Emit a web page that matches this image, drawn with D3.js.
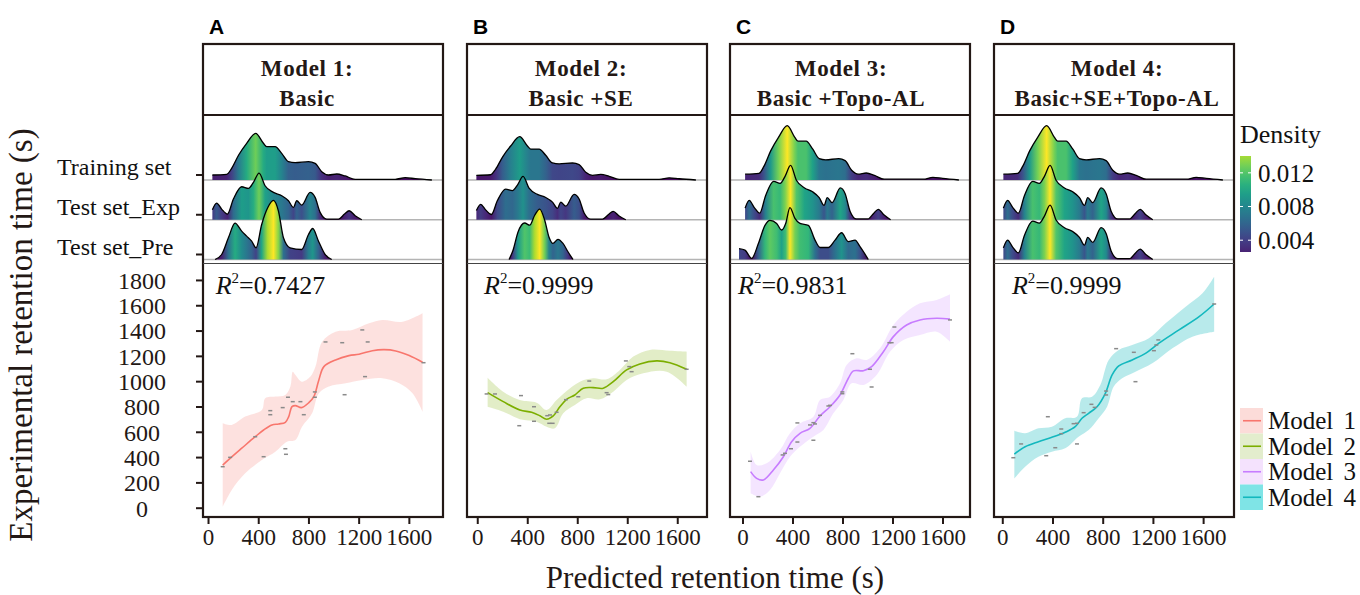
<!DOCTYPE html>
<html><head><meta charset="utf-8">
<script src="https://cdn.jsdelivr.net/npm/d3@7"></script>
<style>body{margin:0;background:#fff}</style>
</head><body><svg id="c" width="1360" height="595"></svg>
<script>
// ---------------- DATA ----------------
const models = ["Model 1","Model 2","Model 3","Model 4"];
const panelTags = ["A","B","C","D"];
const titles = [["Model 1:","Basic"],["Model 2:","Basic +SE"],["Model 3:","Basic +Topo-AL"],["Model 4:","Basic+SE+Topo-AL"]];
const r2Values = ["0.7427","0.9999","0.9831","0.9999"];
const ridgeCategories = ["Training set","Test set_Exp","Test set_Pre"];
const yTicks = [0,200,400,600,800,1000,1200,1400,1600,1800];
const xTicks = [0,400,800,1200,1600];
const densityTicks = [0.004,0.008,0.012];
const densityLegendRange = [0.0026,0.014];

// ridge densities: [retention time (s), density]
const trainingDensity = [[35,.0015],[149,.0017],[189,.0035],[245,.0075],[309,.0110],[381,.0140],[443,.0110],[469,.0100],[536,.0100],[589,.0080],[643,.0055],[696,.0052],[803,.0055],[856,.0050],[909,.0025],[963,.0015],[1029,.0018],[1096,.0012],[1176,.0002],[1496,.0002],[1576,.0007],[1656,.0004],[1789,0]];
const testExpDensity = [[35,.0030],[69,.0050],[109,.0032],[155,.0017],[203,.0062],[269,.0099],[323,.0094],[363,.0112],[408,.0140],[456,.0102],[523,.0082],[589,.0072],[643,.0057],[683,.0037],[709,.0057],[749,.0044],[816,.0082],[856,.0067],[896,.0022],[949,.0002],[1043,.0002],[1091,.0017],[1128,.0027],[1176,.0012],[1229,0]];
const testPreDensity1 = [[56,0],[109,.0015],[163,.0065],[216,.0109],[269,.0085],[309,.0070],[349,.0055],[384,.0035],[429,.0105],[477,.0155],[523,.0177],[563,.0145],[603,.0065],[656,.0035],[749,.0030],[803,.0075],[837,.0093],[883,.0055],[936,.0015],[989,0]];
const testPreDensity2 = [[296,0],[328,.0030],[368,.0089],[421,.0118],[461,.0111],[501,.0143],[541,.0163],[581,.0127],[615,.0073],[647,.0052],[687,.0065],[727,.0052],[767,.0025],[807,0]];
const testPreDensity3 = [[-15,.0028],[34,.0024],[89,.0003],[144,.0041],[198,.0088],[239,.0101],[294,.0093],[335,.0076],[368,.0093],[403,.0134],[444,.0106],[485,.0093],[554,.0088],[609,.0050],[650,.0031],[718,.0031],[773,.0050],[827,.0069],[882,.0046],[937,.0050],[978,.0033],[1046,0]];
const testPreDensity4 = [[35,.0030],[69,.0050],[109,.0032],[155,.0017],[203,.0062],[269,.0099],[323,.0094],[363,.0112],[408,.0140],[456,.0102],[523,.0082],[589,.0072],[643,.0057],[683,.0037],[709,.0057],[749,.0044],[816,.0082],[856,.0067],[896,.0022],[949,.0002],[1043,.0002],[1091,.0017],[1128,.0027],[1176,.0012],[1229,0]];
// relative colour reached at each ridge's peak (per-panel fill normalisation)
const ridgePeakColour = [[0.78,0.78,1],[0.55,0.5,1],[1,1,1],[1,1,1]];

// scatter: [predicted, experimental]
const fit1 = [[117,337],[176,390],[269,470],[376,561],[443,614],[509,654],[563,662],[616,675],[643,720],[669,799],[696,807],[744,791],[803,830],[843,878],[883,1010],[923,1115],[1016,1168],[1123,1202],[1203,1213],[1309,1241],[1403,1249],[1496,1239],[1603,1202],[1709,1149]];
const upper1 = [[117,667],[189,654],[296,720],[429,772],[456,865],[536,878],[616,891],[656,957],[675,1075],[696,1049],[749,996],[816,1036],[856,1115],[909,1312],[1016,1391],[1149,1405],[1283,1458],[1389,1484],[1549,1470],[1709,1537]];
const lower1 = [[117,8],[189,140],[296,272],[429,377],[536,443],[629,522],[696,535],[749,640],[829,746],[883,904],[963,957],[1096,983],[1229,1010],[1389,1023],[1523,983],[1629,904],[1709,759]];
const points1 = [[117,324],[176,398],[376,561],[443,403],[496,767],[496,735],[595,791],[616,466],[621,422],[637,873],[675,838],[736,838],[763,735],[851,915],[851,873],[936,1310],[1069,1304],[1088,893],[1229,1405],[1251,1036],[1272,1310],[1717,1146]];

const fit2 = [[83,909],[208,838],[341,772],[435,754],[501,727],[555,699],[608,725],[661,798],[715,857],[781,891],[848,944],[928,949],[1008,944],[1088,996],[1195,1089],[1301,1136],[1435,1160],[1541,1146],[1675,1094]];
const upper2 = [[83,1028],[208,917],[341,851],[475,830],[555,772],[635,851],[715,922],[821,996],[928,1023],[1035,1015],[1141,1089],[1248,1194],[1381,1247],[1541,1240],[1675,1233]];
const lower2 = [[83,798],[208,759],[341,699],[475,680],[555,640],[621,627],[688,746],[781,812],[875,865],[981,857],[1088,917],[1195,1009],[1328,1062],[1515,1075],[1675,957]];
const points2 = [[75,899],[142,899],[350,886],[336,648],[454,798],[454,683],[560,727],[582,733],[576,667],[603,667],[635,754],[710,854],[808,877],[896,1001],[1035,909],[1048,894],[1189,1160],[1216,1115],[1235,1075],[1675,1094]];

const fit3 = [[65,285],[113,232],[167,219],[247,298],[327,403],[393,522],[460,588],[540,627],[620,725],[700,798],[780,891],[847,1023],[887,1081],[967,1083],[1033,1115],[1127,1233],[1207,1352],[1313,1444],[1420,1484],[1553,1497],[1660,1490]];
const upper3 = [[65,443],[113,338],[193,351],[300,456],[380,588],[460,667],[567,719],[620,851],[700,877],[780,983],[833,1128],[913,1181],[993,1168],[1100,1260],[1207,1444],[1313,1549],[1420,1616],[1553,1642],[1660,1687]];
const lower3 = [[65,114],[140,87],[220,140],[300,272],[380,403],[460,482],[567,561],[647,614],[727,746],[807,851],[873,983],[967,970],[1073,1049],[1180,1233],[1287,1326],[1420,1365],[1553,1391],[1660,1312]];
const points3 = [[60,367],[127,87],[321,417],[340,430],[388,466],[439,519],[439,670],[540,654],[567,672],[567,533],[580,662],[620,730],[687,804],[700,809],[799,901],[799,915],[879,1217],[1020,1094],[1033,954],[1175,1304],[1193,1304],[1215,1428],[1660,1484]];

const fit4 = [[96,424],[182,482],[288,522],[395,556],[501,596],[581,640],[635,707],[688,746],[755,798],[821,904],[875,1049],[928,1120],[1035,1168],[1141,1220],[1248,1300],[1408,1405],[1568,1510],[1688,1610]];
const upper4 = [[96,609],[182,588],[288,627],[395,640],[501,707],[595,719],[635,865],[715,877],[781,970],[848,1168],[928,1247],[1035,1286],[1168,1339],[1301,1458],[1461,1589],[1595,1695],[1688,1826]];
const lower4 = [[96,232],[182,324],[288,403],[395,443],[501,469],[608,561],[688,614],[768,707],[835,798],[888,957],[955,1023],[1061,1075],[1195,1141],[1355,1260],[1515,1352],[1688,1391]];
const points4 = [[88,395],[150,504],[350,411],[363,719],[422,474],[470,622],[470,585],[568,664],[595,667],[595,504],[648,751],[710,817],[736,793],[827,922],[827,891],[907,1257],[1048,1228],[1061,996],[1208,1241],[1227,1286],[1243,1326],[1688,1610]];

// ---------------- LAYOUT / STYLE ----------------
const ink = "#231815";
const serif = "'Liberation Serif','Times New Roman',serif";
const modelColors = ["#F8766D","#7CAE00","#C77CFF","#13B8BE"];
const ribbonOpacity = [0.22,0.22,0.2,0.3];
const legendBoxFill = ["#fcdcd9","#e3edcd","#f4e2fd","#7fe4e6"];
const panelLeft = [203,467,730,994], panelW = 240;
const yTop = 44, yHeader = 115, yRidgeBottom = 263.5, yBottom = 517;
const xDomains = [[-40,1872],[-82,1838],[-100,1820],[-66,1846]];
const ridgeDomains = [[32,1790],[32,1790],[-15,1790],[32,1790]];
const ridgePeakPx = [46.7,43.3,54.3,54.3];
const headerOffset = [-16,-6,-9,3];
const r2Pos = [[61,1690],[54,1690],[-36,1690],[77,1690]];

const svg = d3.select("#c");
const defs = svg.append("defs");
const y = d3.scaleLinear().domain([-73.5,1926]).range([yBottom,264]);
const ridgeY = d3.scalePoint().domain(ridgeCategories).range([180,259.5]);
const viridis = d3.interpolateViridis;

const preSets = [testPreDensity1,testPreDensity2,testPreDensity3,testPreDensity4];
const fits=[fit1,fit2,fit3,fit4], uppers=[upper1,upper2,upper3,upper4], lowers=[lower1,lower2,lower3,lower4], pts=[points1,points2,points3,points4];

models.forEach((m,i)=>{
  const L = panelLeft[i], R = L+panelW;
  const g = svg.append("g");
  const x = d3.scaleLinear().domain(xDomains[i]).range([L,R]);
  const rx = d3.scaleLinear().domain(ridgeDomains[i]).range([L+9,L+229]);
  const rh = d3.scaleLinear().domain([0,0.014]).range([0,ridgePeakPx[i]]);

  // panel tag
  g.append("text").attr("x",L+6).attr("y",34).text(panelTags[i])
    .attr("font-family","'Liberation Sans',Arial,sans-serif").attr("font-weight","bold")
    .attr("font-size",21).attr("fill","#000");
  // header
  const cx = L+panelW/2+headerOffset[i];
  titles[i].forEach((t,k)=>{
    g.append("text").attr("x",cx).attr("y",k?106:76).attr("text-anchor","middle")
      .attr("font-family",serif).attr("font-weight","bold").attr("font-size",23)
      .attr("letter-spacing",0.6).attr("fill",ink).text(t);
  });

  // ridges
  ridgeCategories.forEach(c=>{
    g.append("line").attr("x1",L).attr("x2",R).attr("y1",ridgeY(c)).attr("y2",ridgeY(c))
      .attr("stroke","#b4b4b4").attr("stroke-width",1.5);
  });
  const ridgeSets = [trainingDensity,testExpDensity,preSets[i]];
  ridgeSets.forEach((d,k)=>{
    const base = ridgeY(ridgeCategories[k]);
    const dmax = d3.max(d,p=>p[1]);
    const gid = `rg${i}${k}`;
    const x1 = rx(d[0][0]), x2 = rx(d[d.length-1][0]);
    const grad = defs.append("linearGradient").attr("id",gid)
      .attr("gradientUnits","userSpaceOnUse").attr("x1",x1).attr("x2",x2).attr("y1",0).attr("y2",0);
    d.forEach(p=>{
      grad.append("stop").attr("offset",(rx(p[0])-x1)/(x2-x1))
        .attr("stop-color",viridis(ridgePeakColour[i][k]*p[1]/dmax));
    });
    const area = d3.area().x(p=>rx(p[0])).y0(base).y1(p=>base-rh(p[1])).curve(d3.curveMonotoneX);
    const line = d3.line().x(p=>rx(p[0])).y(p=>base-rh(p[1])).curve(d3.curveMonotoneX);
    g.append("path").attr("d",area(d)).attr("fill",`url(#${gid})`);
    g.append("path").attr("d",line(d)).attr("fill","none").attr("stroke","#000").attr("stroke-width",1.3);
  });

  // scatter: ribbon, fit, points
  const lg = d3.line().x(p=>x(p[0])).y(p=>y(p[1])).curve(d3.curveCatmullRom.alpha(0.5));
  const up = lg(uppers[i]);
  const lo = lg(lowers[i].slice().reverse());
  g.append("path").attr("d", up + "L" + lo.slice(1) + "Z")
    .attr("fill",modelColors[i]).attr("fill-opacity",ribbonOpacity[i]).attr("stroke","none");
  g.append("path").attr("d",lg(fits[i])).attr("fill","none")
    .attr("stroke",modelColors[i]).attr("stroke-width",1.6);
  g.selectAll("rect.pt").data(pts[i]).join("rect").attr("class","pt")
    .attr("x",p=>x(p[0])-2).attr("y",p=>y(p[1])-0.75).attr("width",4).attr("height",1.5)
    .attr("fill","#8a8a8a");

  // R2
  const rt = g.append("text").attr("x",x(r2Pos[i][0])).attr("y",y(r2Pos[i][1]))
    .attr("font-family",serif).attr("font-size",26).attr("fill","#111");
  rt.append("tspan").attr("font-style","italic").text("R");
  rt.append("tspan").attr("font-size",15).attr("dy",-11).text("2");
  rt.append("tspan").attr("dy",11).text("=" + r2Values[i]);

  // frame
  g.append("rect").attr("x",L).attr("y",yTop).attr("width",panelW).attr("height",yBottom-yTop)
    .attr("fill","none").attr("stroke",ink).attr("stroke-width",2.2);
  g.append("line").attr("x1",L).attr("x2",R).attr("y1",yHeader).attr("y2",yHeader)
    .attr("stroke",ink).attr("stroke-width",2.2);
  g.append("line").attr("x1",L).attr("x2",R).attr("y1",yRidgeBottom).attr("y2",yRidgeBottom)
    .attr("stroke","#444").attr("stroke-width",1.2);

  // x axis
  const xa = g.append("g").attr("transform",`translate(0,${yBottom})`)
    .call(d3.axisBottom(x).tickValues(xTicks).tickFormat(d3.format("d")).tickSize(7).tickPadding(4).tickSizeOuter(0));
  xa.select(".domain").remove();
  xa.selectAll("line").attr("stroke",ink).attr("stroke-width",2);
  xa.selectAll("text").attr("font-family",serif).attr("font-size",23).attr("fill",ink).attr("dy","0.72em");

  if(i===0){
    const ya = g.append("g").attr("transform",`translate(${L},0)`)
      .call(d3.axisLeft(y).tickValues(yTicks).tickSize(7).tickSizeOuter(0).tickFormat(d3.format("d")));
    ya.select(".domain").remove();
    ya.selectAll("line").attr("stroke",ink).attr("stroke-width",2);
    ya.selectAll("text").attr("font-family",serif).attr("font-size",24).attr("fill",ink)
      .attr("text-anchor","middle").attr("x",142-L).attr("dy","0.35em");
    ridgeCategories.forEach(c=>{
      const yy = ridgeY(c)-5;
      g.append("line").attr("x1",L-7).attr("x2",L).attr("y1",yy).attr("y2",yy)
        .attr("stroke",ink).attr("stroke-width",2);
      g.append("text").attr("x",57).attr("y",yy).text(c).attr("font-family",serif)
        .attr("font-size",24).attr("fill","#111");
    });
  }
});

// axis titles
svg.append("text").attr("x",715).attr("y",588).attr("text-anchor","middle")
  .attr("font-family",serif).attr("font-size",31).attr("fill",ink).text("Predicted retention time (s)");
svg.append("text").attr("transform","translate(32,335) rotate(-90)").attr("text-anchor","middle")
  .attr("font-family",serif).attr("font-size",33).attr("fill",ink).text("Experimental retention time (s)");

// density colour bar
const cb = d3.scaleLinear().domain(densityLegendRange).range([252,156]);
const cbCol = d3.scaleSequential(viridis).domain([0.0012,0.0160]);
const cg = defs.append("linearGradient").attr("id","cbar").attr("x1",0).attr("x2",0).attr("y1",1).attr("y2",0);
d3.range(0,1.0001,0.1).forEach(t=>{
  const v = densityLegendRange[0]+t*(densityLegendRange[1]-densityLegendRange[0]);
  cg.append("stop").attr("offset",t).attr("stop-color",cbCol(v));
});
svg.append("text").attr("x",1240).attr("y",143).attr("font-family",serif).attr("font-size",26)
  .attr("fill","#111").text("Density");
svg.append("rect").attr("x",1240).attr("y",156).attr("width",11).attr("height",96).attr("fill","url(#cbar)");
densityTicks.forEach(v=>{
  svg.append("line").attr("x1",1240).attr("x2",1243).attr("y1",cb(v)).attr("y2",cb(v)).attr("stroke","#fff");
  svg.append("line").attr("x1",1248).attr("x2",1251).attr("y1",cb(v)).attr("y2",cb(v)).attr("stroke","#fff");
  svg.append("text").attr("x",1258).attr("y",cb(v)).attr("dy","0.35em").attr("font-family",serif)
    .attr("font-size",25).attr("fill","#111").text(d3.format(".3f")(v));
});

// model legend
const ly = d3.scaleBand().domain(models).range([408,510]);
models.forEach((m,i)=>{
  const yy = ly(m);
  svg.append("rect").attr("x",1240).attr("y",yy).attr("width",23).attr("height",ly.bandwidth())
    .attr("fill",legendBoxFill[i]);
  svg.append("line").attr("x1",1243).attr("x2",1261).attr("y1",yy+ly.bandwidth()/2).attr("y2",yy+ly.bandwidth()/2)
    .attr("stroke",modelColors[i]).attr("stroke-width",1.6);
  svg.append("text").attr("x",1268).attr("y",yy+ly.bandwidth()/2).attr("dy","0.33em")
    .attr("font-family",serif).attr("font-size",25).attr("fill","#111").attr("word-spacing",4).text(m);
});
</script></body></html>
